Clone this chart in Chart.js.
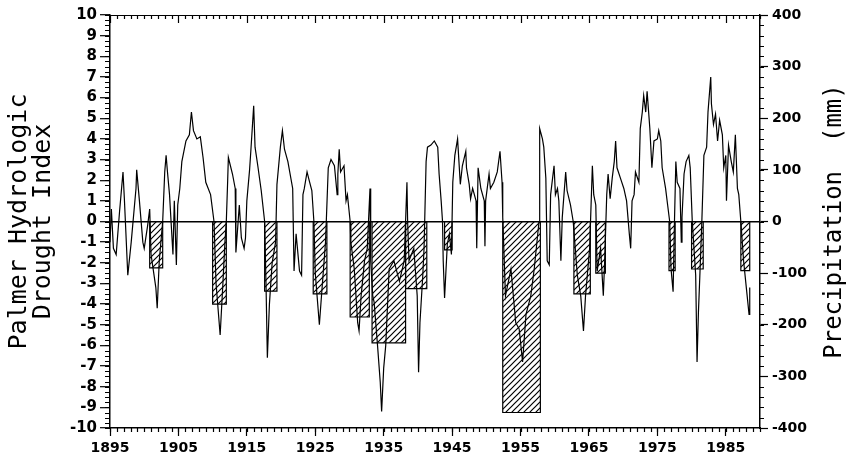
<!DOCTYPE html>
<html>
<head>
<meta charset="utf-8">
<title>Palmer Hydrologic Drought Index</title>
<script src="https://cdn.jsdelivr.net/npm/chart.js@4.4.1/dist/chart.umd.min.js"></script>
<style>
  html, body { margin: 0; padding: 0; background: #fff; }
  #wrap { width: 848px; height: 462px; }
</style>
</head>
<body>
<div id="wrap"><canvas id="phdi-chart"></canvas></div>
<script>
// PHDI readings (year, index) picked off the plot
const phdiYears = [
  1895.0, 1895.2, 1895.5, 1895.9, 1896.4, 1896.9, 1897.1, 1897.6, 1898.1, 1898.8,
  1898.9, 1899.3, 1899.8, 1900.0, 1900.5, 1900.8, 1901.0, 1901.7, 1901.9, 1902.2,
  1902.7, 1903.0, 1903.2, 1903.4, 1903.7, 1904.2, 1904.4, 1904.7, 1904.9, 1905.2,
  1905.5, 1906.1, 1906.6, 1906.9, 1907.2, 1907.7, 1908.2, 1908.6, 1909.0, 1909.7,
  1910.2, 1910.5, 1911.1, 1911.5, 1911.8, 1912.0, 1912.2, 1912.3, 1912.9, 1913.3,
  1913.4, 1913.9, 1914.2, 1914.6, 1914.8, 1915.0, 1915.4, 1915.6, 1916.0, 1916.2,
  1916.6, 1917.1, 1917.6, 1917.8, 1918.0, 1918.3, 1918.7, 1919.2, 1919.4, 1919.9,
  1920.2, 1920.5, 1921.0, 1921.7, 1921.9, 1922.2, 1922.7, 1923.0, 1923.2, 1923.4,
  1923.8, 1924.1, 1924.5, 1924.8, 1925.0, 1925.6, 1926.0, 1926.5, 1926.9, 1927.3,
  1927.8, 1928.2, 1928.3, 1928.5, 1928.7, 1929.2, 1929.5, 1929.7, 1930.1, 1930.2,
  1930.7, 1931.2, 1931.4, 1931.7, 1932.2, 1932.6, 1933.0, 1933.1, 1933.4, 1933.6,
  1934.1, 1934.5, 1934.7, 1935.0, 1935.3, 1935.8, 1936.5, 1937.3, 1938.0, 1938.4,
  1938.5, 1938.7, 1939.4, 1939.9, 1940.1, 1940.3, 1940.7, 1940.9, 1941.2, 1941.4,
  1941.9, 1942.4, 1942.9, 1943.1, 1943.4, 1943.6, 1943.7, 1943.9, 1944.3, 1944.6,
  1944.9, 1945.1, 1945.4, 1945.8, 1946.0, 1946.2, 1946.5, 1947.0, 1947.1, 1947.5,
  1947.7, 1948.0, 1948.5, 1948.6, 1948.8, 1949.2, 1949.7, 1949.8, 1949.9, 1950.4,
  1950.6, 1951.1, 1951.6, 1952.0, 1952.3, 1952.4, 1952.8, 1953.6, 1954.3, 1954.8,
  1955.3, 1955.8, 1956.5, 1957.0, 1957.7, 1957.8, 1958.2, 1958.4, 1958.7, 1958.9,
  1959.2, 1959.4, 1959.9, 1960.1, 1960.4, 1960.6, 1960.9, 1961.1, 1961.6, 1961.8,
  1962.3, 1962.7, 1963.3, 1963.8, 1964.2, 1964.5, 1965.1, 1965.5, 1965.7, 1966.0,
  1966.2, 1966.7, 1967.1, 1967.3, 1967.6, 1967.8, 1968.1, 1968.4, 1968.7, 1968.9,
  1969.1, 1969.6, 1970.1, 1970.5, 1970.7, 1970.9, 1971.1, 1971.3, 1971.6, 1971.8,
  1972.3, 1972.5, 1972.8, 1973.0, 1973.3, 1973.5, 1973.9, 1974.2, 1974.5, 1975.0,
  1975.2, 1975.5, 1975.7, 1976.2, 1976.5, 1976.8, 1977.0, 1977.3, 1977.5, 1977.7,
  1977.9, 1978.3, 1978.5, 1978.6, 1978.9, 1979.2, 1979.6, 1979.8, 1980.1, 1980.6,
  1980.8, 1981.0, 1981.2, 1981.5, 1981.8, 1982.2, 1982.4, 1982.8, 1982.9, 1983.2,
  1983.5, 1983.8, 1984.1, 1984.5, 1984.7, 1985.0, 1985.1, 1985.4, 1985.8, 1986.1,
  1986.4, 1986.7, 1986.9, 1987.2, 1987.6, 1988.0, 1988.4, 1988.5
];
const phdiValues = [
  -1.0, 0.6, -1.3, -1.6, 0.5, 2.4, 1.1, -2.6, -1.0, 1.6,
  2.5, 1.0, -1.0, -1.3, -0.2, 0.6, -1.6, -3.2, -4.2, -1.9,
  0.0, 2.4, 3.2, 2.4, 1.3, -1.6, 1.0, -2.1, 0.8, 1.6,
  2.9, 3.9, 4.2, 5.3, 4.4, 4.0, 4.1, 3.1, 1.9, 1.3,
  0.0, -3.0, -5.5, -3.0, -1.0, 0.0, 2.0, 3.1, 2.3, 1.6,
  -1.5, 0.8, -0.8, -1.3, -0.8, 1.0, 2.5, 3.5, 5.6, 3.6,
  2.7, 1.5, 0.0, -3.0, -6.6, -4.0, -2.0, -1.0, 1.8, 3.6,
  4.4, 3.5, 2.9, 1.6, -2.4, -0.6, -2.4, -2.6, 1.3, 1.6,
  2.4, 2.0, 1.5, 0.0, -2.5, -5.0, -3.2, -1.0, 2.6, 3.0,
  2.7, 1.3, 2.3, 3.5, 2.4, 2.7, 1.0, 1.3, 0.0, -1.0,
  -2.3, -4.9, -5.3, -3.6, -1.9, -1.3, 1.6, -1.9, -3.6, -3.9,
  -6.0, -7.8, -9.2, -7.1, -6.0, -2.3, -1.9, -2.9, -1.9, 1.9,
  0.0, -1.9, -1.3, -3.6, -7.3, -4.9, -2.7, -1.3, 2.9, 3.6,
  3.7, 3.9, 3.6, 2.3, 1.0, 0.0, -1.9, -3.7, -1.1, -0.6,
  -1.6, 1.9, 3.2, 4.0, 2.9, 1.8, 2.7, 3.4, 2.6, 1.8,
  1.1, 1.6, 1.0, -1.3, 2.6, 1.6, 1.0, -1.2, 1.0, 2.3,
  1.6, 1.9, 2.4, 3.4, 1.9, 0.2, -3.6, -2.3, -4.9, -5.2,
  -6.8, -4.5, -3.6, -2.3, 0.0, 4.5, 4.0, 3.6, 2.1, -1.9,
  -2.1, 1.3, 2.7, 1.3, 1.6, 1.0, -1.9, 0.2, 2.4, 1.5,
  0.8, 0.0, -2.6, -3.6, -5.3, -3.6, -1.3, 2.7, 1.3, 0.8,
  -2.4, -1.3, -3.6, -1.9, 1.3, 2.3, 1.1, 2.1, 2.9, 3.9,
  2.6, 2.1, 1.6, 1.0, 0.2, -0.6, -1.3, 1.0, 1.3, 2.4,
  1.9, 4.5, 5.3, 6.1, 5.3, 6.3, 4.5, 2.6, 3.9, 4.0,
  4.4, 3.9, 2.6, 1.6, 0.8, 0.0, -2.3, -3.4, 0.0, 2.9,
  1.9, 1.6, -1.0, 0.2, 2.3, 2.9, 3.2, 2.6, 0.0, -2.6,
  -6.8, -4.4, -2.7, 0.0, 3.2, 3.6, 5.3, 7.0, 5.7, 4.7,
  5.2, 3.9, 4.9, 4.2, 2.6, 3.2, 1.0, 3.7, 2.9, 2.4,
  4.2, 1.6, 1.3, 0.0, -1.9, -3.2, -4.5, -3.2
];

// Drought periods: start year, end year, precipitation deficit (mm)
const droughtStart  = [1900.8, 1910.0, 1917.6, 1924.7, 1930.1, 1933.3, 1938.2, 1943.9, 1952.4, 1962.8, 1966.0, 1976.7, 1980.0, 1987.2];
const droughtEnd    = [1902.7, 1912.0, 1919.4, 1926.7, 1932.9, 1938.2, 1941.3, 1945.0, 1957.9, 1965.2, 1967.4, 1977.6, 1981.7, 1988.5];
const droughtPrecip = [-90, -160, -135, -140, -185, -235, -130, -55, -370, -140, -100, -95, -92, -95];

// axis ticks
const yearTicks = [1895, 1905, 1915, 1925, 1935, 1945, 1955, 1965, 1975, 1985];
const phdiTicks = [-10, -9, -8, -7, -6, -5, -4, -3, -2, -1, 0, 1, 2, 3, 4, 5, 6, 7, 8, 9, 10];
const precipTicks = [-400, -300, -200, -100, 0, 100, 200, 300, 400];

const canvas = document.getElementById('phdi-chart');
const ctx = canvas.getContext('2d');

// diagonal hatching for the precipitation bars
function makeHatch() {
    const c = document.createElement('canvas');
    c.width = 6;
    c.height = 6;
    const g = c.getContext('2d');
    g.strokeStyle = '#000';
    g.lineWidth = 1.2;
    g.beginPath();
    g.moveTo(0, 6); g.lineTo(6, 0);
    g.moveTo(-1, 1); g.lineTo(1, -1);
    g.moveTo(5, 7); g.lineTo(7, 5);
    g.stroke();
    return ctx.createPattern(c, 'repeat');
}
const hatch = makeHatch();

// small tick marks + top frame, the way the old plotter drew them
const frameTicks = {
    id: 'frameTicks',
    afterDraw(chart) {
        const { ctx, chartArea: a, scales: { x, y, y1 } } = chart;
        ctx.save();
        ctx.strokeStyle = '#000';
        ctx.lineWidth = 1.2;
        ctx.beginPath();
        ctx.moveTo(a.left, a.top + 0.5);
        ctx.lineTo(a.right, a.top + 0.5);
        for (let yr = x.min; yr <= x.max; yr += 1) {
            const px = Math.round(x.getPixelForValue(yr)) + 0.5;
            const major = (yr - yearTicks[0]) % 10 === 0;
            ctx.moveTo(px, a.bottom); ctx.lineTo(px, a.bottom + 4);
            ctx.moveTo(px, a.top); ctx.lineTo(px, a.top + (major ? 8 : 4));
        }
        for (let v = y.min; v <= y.max; v += 0.25) {
            const py = Math.round(y.getPixelForValue(v)) + 0.5;
            ctx.moveTo(a.left, py); ctx.lineTo(a.left - 5, py);
        }
        for (let v = y1.min; v <= y1.max; v += 20) {
            const py = Math.round(y1.getPixelForValue(v)) + 0.5;
            ctx.moveTo(a.right, py); ctx.lineTo(a.right + 4, py);
        }
        ctx.stroke();

        // right-hand title reads bottom to top
        ctx.font = '24px "DejaVu Sans Mono"';
        ctx.fillStyle = '#000';
        ctx.textAlign = 'center';
        ctx.textBaseline = 'middle';
        ctx.translate(y1.right - 13, (a.top + a.bottom) / 2);
        ctx.rotate(-Math.PI / 2);
        ctx.fillText('Precipitation  (mm)', 0, 0);
        ctx.restore();
    }
};

const barSets = droughtStart.map((start, i) => ({
    label: 'Precipitation ' + i,
    yAxisID: 'y1',
    data: [
        { x: start, y: 0 },
        { x: start, y: droughtPrecip[i] },
        { x: droughtEnd[i], y: droughtPrecip[i] },
        { x: droughtEnd[i], y: 0 }
    ],
    fill: 'origin',
    backgroundColor: hatch,
    borderColor: '#000',
    borderWidth: 1.2,
    pointRadius: 0,
    tension: 0,
    order: 2
}));

const tickFont = { family: 'DejaVu Sans', size: 14, weight: 'bold' };

new Chart(ctx, {
    type: 'line',
    data: {
        datasets: [
            {
                label: 'PHDI',
                yAxisID: 'y',
                data: phdiYears.map((yr, i) => ({ x: yr, y: phdiValues[i] })),
                borderColor: '#000',
                borderWidth: 1.2,
                pointRadius: 0,
                tension: 0,
                fill: false,
                order: 1
            },
            ...barSets
        ]
    },
    options: {
        responsive: true,
        maintainAspectRatio: false,
        animation: false,
        layout: { padding: { top: 15, left: 0, right: 0, bottom: 0 } },
        plugins: {
            legend: { display: false },
            tooltip: { enabled: false }
        },
        scales: {
            x: {
                type: 'linear',
                position: 'bottom',
                min: 1895,
                max: 1990,
                afterBuildTicks: s => { s.ticks = yearTicks.map(v => ({ value: v })); },
                afterFit: s => { s.height = 34; },
                ticks: {
                    autoSkip: false,
                    maxRotation: 0,
                    padding: 4,
                    color: '#000',
                    font: tickFont,
                    callback: v => String(v)
                },
                grid: { drawOnChartArea: false, tickLength: 8, tickColor: '#000', tickWidth: 1.2 },
                border: { color: '#000', width: 1.5 }
            },
            y: {
                type: 'linear',
                position: 'left',
                min: -10,
                max: 10,
                afterBuildTicks: s => { s.ticks = phdiTicks.map(v => ({ value: v })); },
                afterFit: s => { s.width = 110; },
                ticks: {
                    autoSkip: false,
                    padding: 3,
                    color: '#000',
                    font: { family: 'DejaVu Sans', size: 15, weight: 'bold' },
                    callback: v => String(v)
                },
                title: {
                    display: true,
                    text: ['Palmer Hydrologic', 'Drought Index'],
                    color: '#000',
                    font: { family: 'DejaVu Sans Mono', size: 25, lineHeight: 0.95 },
                    padding: { top: 8, bottom: 0 }
                },
                grid: {
                    drawOnChartArea: true,
                    color: c => (c.tick && c.tick.value === 0 ? '#000' : 'rgba(0,0,0,0)'),
                    lineWidth: 1.4,
                    tickLength: 10,
                    tickColor: '#000',
                    tickWidth: 1.2
                },
                border: { color: '#000', width: 1.5 }
            },
            y1: {
                type: 'linear',
                position: 'right',
                min: -400,
                max: 400,
                afterBuildTicks: s => { s.ticks = precipTicks.map(v => ({ value: v })); },
                afterFit: s => { s.width = 88; },
                ticks: {
                    autoSkip: false,
                    padding: 4,
                    color: '#000',
                    font: tickFont,
                    callback: v => String(v)
                },
                grid: { drawOnChartArea: false, tickLength: 8, tickColor: '#000', tickWidth: 1.2 },
                border: { color: '#000', width: 1.5 }
            }
        }
    },
    plugins: [frameTicks]
});
</script>
</body>
</html>
